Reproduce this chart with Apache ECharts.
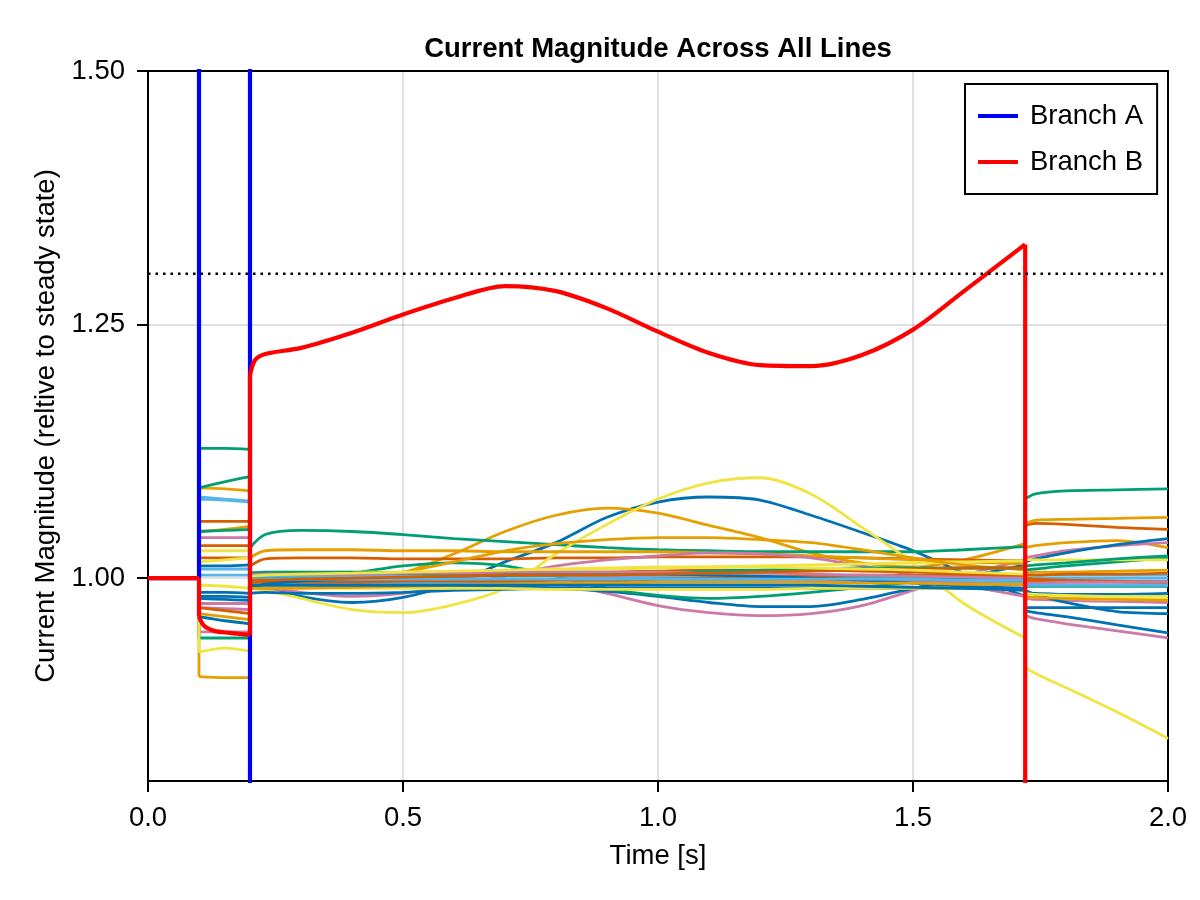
<!DOCTYPE html>
<html><head><meta charset="utf-8">
<script src="https://cdn.jsdelivr.net/npm/echarts@6/dist/echarts.min.js"></script>
<style>html,body{margin:0;padding:0;background:#fff}#c{width:1200px;height:900px}</style>
</head><body><div id="c"></div>
<script>
// ---- time grids ----
const preTimes   = [0, 0.1];
const faultTimes = [0.1, 0.15, 0.2];
const midTimes   = [0.2, 0.23, 0.3, 0.4, 0.5, 0.6, 0.7, 0.8, 0.9, 1.0, 1.1, 1.2, 1.3, 1.4, 1.5, 1.6, 1.72];
const postTimes  = [1.72, 1.74, 1.8, 1.9, 2.0];

// ---- all-line values (relative current) ----
const lineFault = [
  [1.012,1.012,1.013], [1.089,1.088,1.086], [1.128,1.128,1.127], [1.040,1.040,1.040], [1.078,1.077,1.075], [1.056,1.056,1.056], [0.993,0.992,0.990],
  [0.986,0.986,0.985], [1.046,1.048,1.051], [1.089,1.095,1.100], [0.975,0.975,0.975], [1.080,1.078,1.076], [1.032,1.032,1.032], [1.027,1.027,1.027],
  [0.982,0.982,0.981], [0.903,0.902,0.902], [0.941,0.941,0.941], [0.947,0.947,0.947], [1.009,1.009,1.009], [1.020,1.020,1.020], [1.016,1.018,1.020],
  [0.962,0.958,0.955], [0.965,0.962,0.959], [1.046,1.047,1.048], [0.971,0.970,0.969], [1.003,1.003,1.003], [0.971,0.968,0.965],
  [0.927,0.931,0.928], [0.980,0.979,0.978]
];
const lineMid = [
  [0.998,0.993,0.982,0.976,0.981,0.995,1.016,1.035,1.060,1.075,1.080,1.077,1.062,1.045,1.027,1.005,0.982],
  [0.995,0.995,0.994,0.997,1.005,1.024,1.046,1.062,1.069,1.064,1.052,1.040,1.025,1.015,1.011,1.018,1.034],
  [1.030,1.043,1.047,1.046,1.043,1.039,1.036,1.033,1.030,1.028,1.027,1.026,1.026,1.026,1.026,1.028,1.031],
  [0.995,0.996,0.996,0.998,1.000,1.000,0.998,0.995,0.985,0.973,0.966,0.963,0.965,0.973,0.988,1.003,1.018],
  [0.998,0.998,0.998,0.998,0.998,0.998,0.998,0.998,0.998,0.998,0.998,0.998,0.998,0.998,0.998,0.998,0.998],
  [1.012,1.019,1.020,1.020,1.019,1.019,1.019,1.020,1.020,1.021,1.021,1.021,1.021,1.020,1.019,1.018,1.017],
  [0.990,0.988,0.980,0.969,0.966,0.974,0.990,1.024,1.053,1.078,1.094,1.099,1.083,1.050,1.015,0.975,0.941],
  [0.990,0.992,0.993,0.993,0.993,0.993,0.992,0.990,0.987,0.982,0.976,0.972,0.972,0.979,0.990,1.001,1.013],
  [1.020,1.027,1.028,1.028,1.027,1.027,1.026,1.026,1.026,1.026,1.025,1.024,1.022,1.020,1.018,1.016,1.014],
  [0.998,1.000,1.001,1.005,1.012,1.015,1.012,1.002,0.990,0.983,0.980,0.982,0.986,0.991,0.996,1.000,1.004],
  [0.992,0.990,0.986,0.982,0.985,0.993,1.002,1.012,1.018,1.022,1.025,1.024,1.020,1.012,1.003,0.993,0.982],
  [0.995,0.995,0.995,0.995,0.995,0.995,0.995,0.995,0.996,0.996,0.996,0.996,0.996,0.996,0.996,0.996,0.996],
  [1.000,1.001,1.002,1.003,1.004,1.004,1.005,1.006,1.006,1.007,1.008,1.008,1.008,1.007,1.006,1.005,1.003],
  [1.005,1.006,1.006,1.006,1.006,1.006,1.007,1.008,1.009,1.010,1.011,1.012,1.013,1.014,1.015,1.016,1.017],
  [0.985,0.986,0.985,0.985,0.986,0.988,0.989,0.990,0.990,0.990,0.990,0.990,0.990,0.990,0.990,0.990,0.990],
  [0.995,0.997,0.998,1.000,1.006,1.016,1.027,1.034,1.038,1.040,1.040,1.038,1.035,1.028,1.020,1.013,1.008],
  [1.000,1.001,1.002,1.002,1.002,1.003,1.004,1.004,1.004,1.003,1.002,1.002,1.001,1.000,1.000,0.999,0.998],
  [0.997,0.997,0.997,0.997,0.998,0.998,0.998,0.999,1.000,1.000,1.000,0.999,0.998,0.997,0.996,0.995,0.993],
  [1.002,1.002,1.002,1.002,1.002,1.002,1.002,1.002,1.002,1.002,1.002,1.002,1.002,1.002,1.002,1.002,1.002],
  [0.996,0.996,0.996,0.996,0.997,0.997,0.997,0.998,0.998,0.999,1.000,1.001,1.002,1.003,1.003,1.003,1.002],
  [0.992,0.992,0.991,0.990,0.990,0.990,0.990,0.989,0.989,0.989,0.989,0.989,0.990,0.990,0.990,0.990,0.989],
  [0.990,0.994,0.997,0.999,1.000,1.002,1.003,1.004,1.004,1.004,1.003,1.002,1.000,0.998,0.995,0.992,0.990],
  [0.990,0.990,0.990,0.991,0.992,0.993,0.994,0.995,0.995,0.996,0.996,0.996,0.996,0.995,0.995,0.994,0.994],
  [1.005,1.006,1.006,1.006,1.005,1.004,1.003,1.003,1.004,1.005,1.007,1.008,1.009,1.010,1.010,1.010,1.010],
  [1.003,1.004,1.004,1.004,1.005,1.005,1.006,1.006,1.006,1.006,1.005,1.005,1.004,1.003,1.002,1.001,1.000],
  [0.999,0.999,0.999,0.999,0.999,0.999,0.999,0.999,0.999,0.999,0.999,0.999,0.999,0.999,0.999,0.998,0.998],
  [0.998,0.998,0.999,1.000,1.001,1.002,1.003,1.003,1.003,1.004,1.005,1.006,1.007,1.008,1.009,1.010,1.010],
  [1.002,1.003,1.004,1.005,1.006,1.007,1.008,1.009,1.010,1.011,1.011,1.011,1.010,1.009,1.008,1.006,1.004],
  [0.993,0.993,0.993,0.993,0.993,0.993,0.993,0.993,0.993,0.993,0.993,0.993,0.993,0.992,0.991,0.990,0.988]
];
const linePost = [
  [0.968,0.966,0.962,0.954,0.946], [1.030,1.032,1.035,1.037,1.030], [1.078,1.083,1.086,1.087,1.088], [1.020,1.022,1.027,1.032,1.035],
  [1.000,1.000,1.000,1.000,1.000], [1.052,1.054,1.053,1.050,1.048], [0.912,0.906,0.892,0.868,0.842],
  [1.016,1.019,1.025,1.033,1.039], [1.054,1.057,1.058,1.059,1.060], [1.008,1.009,1.012,1.016,1.020], [0.963,0.960,0.955,0.948,0.941],
  [0.997,0.997,0.997,0.997,0.997], [0.997,0.997,0.996,0.996,0.995], [1.018,1.018,1.018,1.018,1.018],
  [0.985,0.985,0.984,0.984,0.985], [1.005,1.006,1.006,1.007,1.008], [0.992,0.992,0.992,0.992,0.992], [0.980,0.979,0.978,0.977,0.976],
  [1.003,1.003,1.003,1.003,1.003], [1.000,0.999,0.998,0.997,0.996], [0.982,0.981,0.980,0.979,0.979],
  [0.988,0.984,0.976,0.967,0.965], [0.982,0.981,0.980,0.979,0.978], [1.012,1.013,1.015,1.019,1.022], [0.995,0.995,0.996,0.996,0.996],
  [0.993,0.993,0.993,0.993,0.993], [1.003,1.003,1.004,1.004,1.005], [0.985,0.984,0.983,0.982,0.982],
  [0.971,0.971,0.971,0.971,0.971]
];

// ---- highlighted branches ----
const branchATime  = [0, 0.1, 0.1, 0.2, 0.2, 2.0];
const branchAValue = [1, 1, 3, 3, 0, 0];
const branchBTime  = [0, 0.1, 0.1, 0.11, 0.13, 0.16, 0.2, 0.2, 0.21, 0.23, 0.3, 0.4, 0.5, 0.6, 0.7, 0.8, 0.9, 1.0, 1.1, 1.2, 1.3, 1.4, 1.5, 1.6, 1.72, 1.72, 2.0];
const branchBValue = [1, 1, 0.962, 0.953, 0.948, 0.946, 0.944, 1.200, 1.215, 1.221, 1.227, 1.242, 1.260, 1.276, 1.288, 1.283, 1.266, 1.243, 1.222, 1.210, 1.209, 1.220, 1.245, 1.283, 1.329, 0, 0];

// ---- threshold and ticks ----
const thresholdTime  = [0, 2];
const thresholdValue = [1.3, 1.3];
const xTickValues = [0, 0.5, 1.0, 1.5, 2.0];
const yTickValues = [1.0, 1.25, 1.5];

const palette = ['#0072B2','#E69F00','#009E73','#CC79A7','#56B4E9','#D55E00','#F0E442'];
const FONT = 'Liberation Sans, Arial, sans-serif';

// Split a time series into runs so that vertical jumps are drawn straight
function toRuns(t, v) {
  const out = [];
  for (let i = 0; i < t.length; i++) {
    if (i > 0 && t[i] === t[i - 1]) {
      out.push([t[i - 1], null]);
      out.push([t[i - 1], v[i - 1]], [t[i], v[i]]);
      out.push([t[i], null]);
    }
    out.push([t[i], v[i]]);
  }
  return out;
}

const series = [];
const allTimes = preTimes.concat(faultTimes, midTimes, postTimes);
for (let k = 0; k < lineMid.length; k++) {
  const vals = [1, 1].concat(lineFault[k], lineMid[k], linePost[k]);
  const c = palette[k % palette.length];
  series.push({
    type: 'line', name: 'line' + (k + 1), data: toRuns(allTimes, vals),
    showSymbol: false, smooth: 0.3, connectNulls: false, clip: true, silent: true,
    color: c, lineStyle: { color: c, width: 2.8 }, z: 2
  });
}
series.push({
  type: 'line', name: 'Branch A', data: toRuns(branchATime, branchAValue),
  showSymbol: false, smooth: false, clip: true, silent: true,
  color: '#0000FF', lineStyle: { color: '#0000FF', width: 4.2 }, z: 3
});
series.push({
  type: 'line', name: 'Branch B', data: toRuns(branchBTime, branchBValue),
  showSymbol: false, smooth: 0.3, connectNulls: false, clip: true, silent: true,
  color: '#FF0000', lineStyle: { color: '#FF0000', width: 4.2 }, z: 4
});
series.push({
  type: 'line', name: 'threshold', data: thresholdTime.map((t, i) => [t, thresholdValue[i]]),
  showSymbol: false, clip: true, silent: true,
  color: '#000', lineStyle: { color: '#000', width: 2.5, type: [2.5, 5] }, z: 5
});

const chart = echarts.init(document.getElementById('c'), null, { renderer: 'canvas' });
chart.setOption({
  animation: false,
  backgroundColor: '#ffffff',
  textStyle: { fontFamily: FONT },
  title: {
    text: 'Current Magnitude Across All Lines',
    left: 658, top: 35, textAlign: 'center', padding: 0,
    textStyle: { fontFamily: FONT, fontSize: 27.5, fontWeight: 'bold', color: '#000' }
  },
  legend: {
    data: ['Branch A', 'Branch B'],
    left: 965, top: 84, orient: 'vertical',
    padding: [17, 14, 17, 13], itemGap: 16,
    itemWidth: 40, itemHeight: 4, icon: 'rect',
    backgroundColor: '#fff', borderColor: '#000', borderWidth: 2, borderRadius: 0,
    textStyle: { fontFamily: FONT, fontSize: 27.5, color: '#000', lineHeight: 30, padding: [0, 0, 0, 7] },
    selectedMode: false
  },
  grid: { left: 148, right: 32, top: 71, bottom: 119, show: true, borderColor: '#000', borderWidth: 2, backgroundColor: 'transparent', outerBoundsMode: 'none' },
  xAxis: {
    type: 'value', min: 0, max: 2, interval: 0.5,
    name: 'Time [s]', nameLocation: 'middle', nameGap: 61,
    nameTextStyle: { fontFamily: FONT, fontSize: 27.5, color: '#000' },
    axisLine: { show: true, onZero: false, lineStyle: { color: '#000', width: 2 } },
    axisTick: { show: true, inside: false, length: 11, lineStyle: { color: '#000', width: 2 } },
    axisLabel: { show: true, margin: 23, fontFamily: FONT, fontSize: 27.5, color: '#000', formatter: v => v.toFixed(1),
      customValues: xTickValues },
    splitLine: { show: true, lineStyle: { color: 'rgba(0,0,0,0.12)', width: 2 } }
  },
  yAxis: {
    type: 'value', min: 0.8, max: 1.5,
    name: 'Current Magnitude (reltive to steady state)', nameLocation: 'middle', nameGap: 86,
    nameTextStyle: { fontFamily: FONT, fontSize: 27.5, color: '#000' },
    axisLine: { show: true, onZero: false, lineStyle: { color: '#000', width: 2 } },
    axisTick: { show: true, inside: false, length: 11, lineStyle: { color: '#000', width: 2 }, customValues: yTickValues },
    axisLabel: { show: true, margin: 23, fontFamily: FONT, fontSize: 27.5, color: '#000', formatter: v => v.toFixed(2),
      customValues: yTickValues },
    splitLine: { show: true, lineStyle: { color: 'rgba(0,0,0,0.12)', width: 2 } }
  },
  series: series
});
</script>
</body></html>
